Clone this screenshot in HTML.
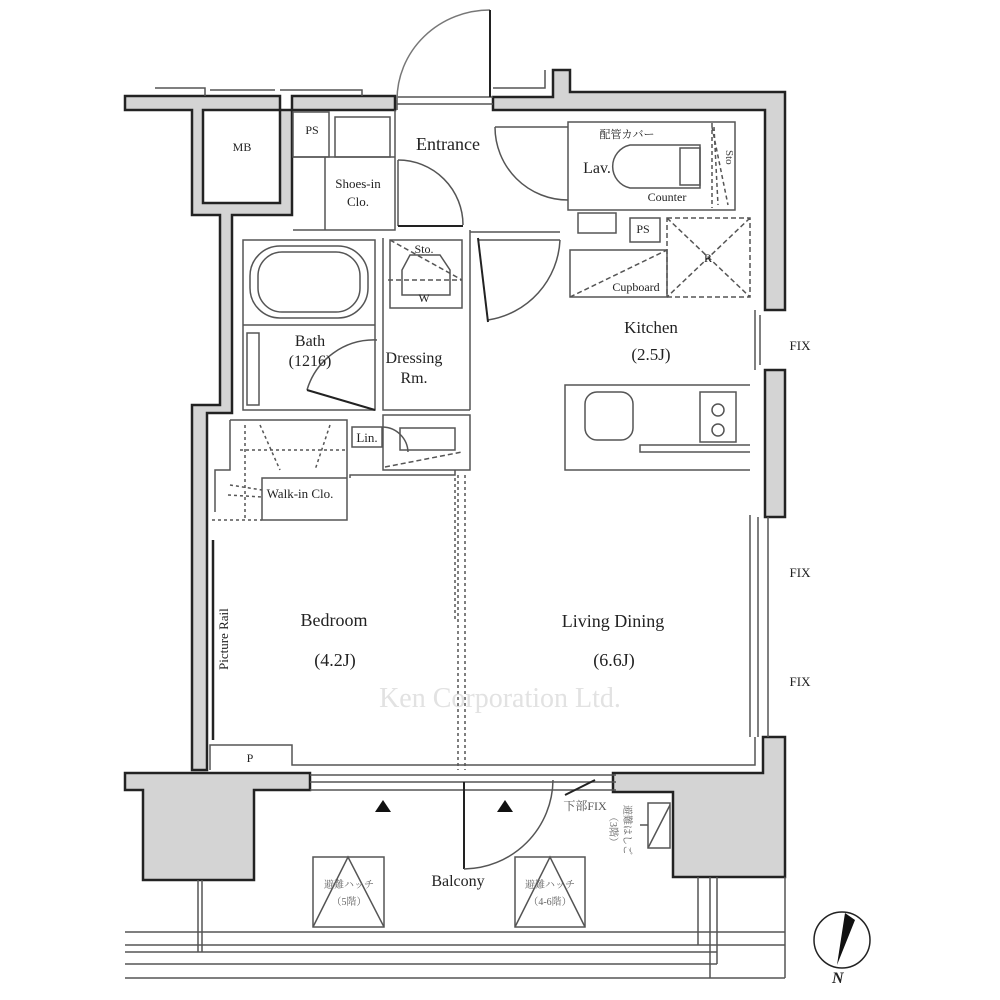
<!DOCTYPE html>
<html><head><meta charset="utf-8"><style>
html,body{margin:0;padding:0;background:#fff;}
svg{display:block;}
text{font-family:"Liberation Serif","Noto Serif CJK SC",serif;fill:#222;}
</style></head><body>
<svg width="1000" height="1000" viewBox="0 0 1000 1000" xmlns="http://www.w3.org/2000/svg">
<g fill="#d4d4d4" stroke="#222" stroke-width="2.5">
<path d="M125 96 L280 96 L280 110 L292 110 L292 96 L395 96 L395 110 L292 110 L292 215 L232 215 L232 413 L207 413 L207 770 L192 770 L192 405 L220 405 L220 215 L203 215 L192 215 L192 110 L125 110 Z"/>
<path d="M493 97 L553 97 L553 70 L570 70 L570 92 L785 92 L785 310 L765 310 L765 110 L493 110 Z"/>
<path d="M765 370 L785 370 L785 517 L765 517 Z"/>
<path d="M763 737 L785 737 L785 877 L673 877 L673 792 L613 792 L613 773 L763 773 Z"/>
<path d="M125 773 L310 773 L310 790 L254 790 L254 880 L143 880 L143 790 L125 790 Z"/>
</g>
<rect x="203" y="110" width="77" height="93" fill="#fff" stroke="#222" stroke-width="2.5"/>
<g fill="none" stroke="#555" stroke-width="1.5">
<path d="M155 88 L205 88 L205 96 M210 90 L275 90 M280 90 L362 90 L362 96"/>
<path d="M493 88 L545 88 L545 70"/>
<path d="M397 97 L493 97 M397 104 L493 104"/>
<line x1="397" y1="96" x2="397" y2="110"/>
<path d="M397 100 A93 90 0 0 1 490 10" stroke="#777"/>
<line x1="490" y1="10" x2="490" y2="97" stroke="#222" stroke-width="2"/>
<rect x="293" y="112" width="36" height="45"/>
<rect x="335" y="117" width="55" height="40"/>
<path d="M293 157 L395 157 M325 157 L325 230 M293 230 L395 230 L395 110"/>
<line x1="398" y1="160" x2="398" y2="226"/>
<path d="M398 160 A65 65 0 0 1 463 225"/>
<line x1="398" y1="226" x2="463" y2="226" stroke="#222" stroke-width="2"/>
<path d="M470 230 L470 410 M478 232 L560 232 M478 240 L560 240 M470 232 L478 232"/>
<rect x="568" y="122" width="167" height="88"/>
<line x1="495" y1="127" x2="568" y2="127"/>
<path d="M495 127 A73 73 0 0 0 568 200"/>
<path d="M630 145 L700 145 L700 188 L630 188 A22 22 0 0 1 630 145 Z"/>
<path d="M680 148 L700 148 L700 185 L680 185 Z"/>
<path d="M712 123 L712 208" stroke-dasharray="4 3"/>
<path d="M712 127 L728 205 M714 127 L718 205" stroke-dasharray="4 3"/>
<rect x="578" y="213" width="38" height="20"/>
<rect x="630" y="218" width="30" height="24"/>
<path d="M560 240 A85 85 0 0 1 488 320" />
<line x1="478" y1="238" x2="488" y2="322" stroke="#222" stroke-width="2"/>
<path d="M570 250 L667 250 L667 297 L570 297 Z"/>
<path d="M667 218 L750 218 L750 297 L667 297 Z M667 218 L750 297 M750 218 L667 297 M570 297 L667 250" stroke-dasharray="5 3"/>
<path d="M750 385 L565 385 L565 470 L750 470"/>
<path d="M750 445 L640 445 L640 452 L750 452"/>
<rect x="585" y="392" width="48" height="48" rx="12"/>
<rect x="700" y="392" width="36" height="50"/>
<circle cx="718" cy="410" r="6"/><circle cx="718" cy="430" r="6"/>
<path d="M755 310 L755 370 M760 315 L760 365 M750 515 L750 737 M758 517 L758 737 M768 517 L768 737"/>
<rect x="243" y="240" width="132" height="170"/>
<line x1="243" y1="325" x2="375" y2="325"/>
<rect x="250" y="246" width="118" height="72" rx="30"/>
<rect x="258" y="252" width="102" height="60" rx="24"/>
<rect x="247" y="333" width="12" height="72"/>
<path d="M307 390 A70 70 0 0 1 377 340"/>
<line x1="307" y1="390" x2="375" y2="410" stroke="#222" stroke-width="2"/>
<path d="M383 238 L383 410 L470 410"/>
<rect x="390" y="240" width="72" height="68"/>
<path d="M390 240 L462 280 M388 280 L462 280" stroke-dasharray="5 3"/>
<path d="M410 255 L440 255 L450 270 L450 295 L402 295 L402 270 Z"/>
<rect x="352" y="427" width="30" height="20"/>
<path d="M383 415 L470 415 L470 470 L383 470 Z"/>
<rect x="400" y="428" width="55" height="22"/>
<path d="M383 427 A26 26 0 0 1 408 452"/>
<path d="M385 467 L462 452" stroke-dasharray="5 3"/>
<path d="M230 420 L347 420 L347 478 L262 478 L262 520 L347 520 L347 478 M230 420 L230 470 L215 470 L215 512"/>
<path d="M245 425 L245 520 M212 520 L262 520 M240 450 L345 450 M260 425 L280 470 M330 425 L315 470 M230 485 L262 490 M228 495 L262 497" stroke-dasharray="3 3"/>
<path d="M350 478 L350 475 L455 475 L455 470"/>
<path d="M210 770 L210 745 L292 745 L292 765 L755 765 L755 737"/>
<path d="M458 475 L458 770 M465 475 L465 770 M455 478 L455 620" stroke-dasharray="3 3"/>
<path d="M310 775 L616 775 M310 782 L616 782 M310 790 L616 790"/>
<line x1="213" y1="540" x2="213" y2="740" stroke="#222" stroke-width="2.5"/>
<line x1="464" y1="782" x2="464" y2="869" stroke="#222" stroke-width="2"/>
<path d="M464 869 A90 90 0 0 0 553 780"/>
<path d="M565 795 L595 780" stroke="#222" stroke-width="2"/>
<rect x="313" y="857" width="71" height="70"/>
<path d="M313 927 L348 857 L384 927"/>
<rect x="515" y="857" width="70" height="70"/>
<path d="M515 927 L550 857 L585 927"/>
<rect x="648" y="803" width="22" height="45"/>
<path d="M648 848 L670 805 M640 825 L648 825"/>
<path d="M125 932 L785 932 M125 945 L785 945 M125 952 L717 952 M125 964 L717 964 M125 978 L785 978"/>
<path d="M198 880 L198 952 M202 880 L202 952 M698 877 L698 945 M710 877 L710 978 M717 877 L717 964 M785 877 L785 978"/>
</g>
<polygon points="383,800 375,812 391,812" fill="#111"/>
<polygon points="505,800 497,812 513,812" fill="#111"/>
<circle cx="842" cy="940" r="28" fill="none" stroke="#222" stroke-width="1.5"/>
<polygon points="845,913 855,920 837,965" fill="#111"/>
<text x="832" y="983" font-size="16" font-weight="bold" font-style="italic" font-family="Liberation Sans,sans-serif">N</text>
<g text-anchor="middle">
<text x="448" y="150" font-size="18">Entrance</text>
<text x="242" y="151" font-size="12">MB</text>
<text x="312" y="134" font-size="12">PS</text>
<text x="358" y="188" font-size="13">Shoes-in</text>
<text x="358" y="206" font-size="13">Clo.</text>
<text x="597" y="173" font-size="16">Lav.</text>
<text x="627" y="138" font-size="11">配管カバー</text>
<text x="667" y="201" font-size="12">Counter</text>
<text x="643" y="233" font-size="12">PS</text>
<text x="708" y="262" font-size="12">R</text>
<text x="636" y="291" font-size="12">Cupboard</text>
<text x="424" y="253" font-size="12">Sto.</text>
<text x="424" y="302" font-size="12">W</text>
<text x="310" y="346" font-size="16">Bath</text>
<text x="310" y="366" font-size="16">(1216)</text>
<text x="414" y="363" font-size="16">Dressing</text>
<text x="414" y="383" font-size="16">Rm.</text>
<text x="651" y="333" font-size="17">Kitchen</text>
<text x="651" y="360" font-size="17">(2.5J)</text>
<text x="800" y="350" font-size="13">FIX</text>
<text x="800" y="577" font-size="13">FIX</text>
<text x="800" y="686" font-size="13">FIX</text>
<text x="367" y="442" font-size="13">Lin.</text>
<text x="300" y="498" font-size="13">Walk-in Clo.</text>
<text x="334" y="626" font-size="18">Bedroom</text>
<text x="335" y="666" font-size="18">(4.2J)</text>
<text x="613" y="627" font-size="18">Living Dining</text>
<text x="614" y="666" font-size="18">(6.6J)</text>
<text x="500" y="707" font-size="28" font-family="Liberation Sans,sans-serif" style="fill:#e2e2e2">Ken Corporation Ltd.</text>
<text x="250" y="762" font-size="12">P</text>
<text x="458" y="886" font-size="16">Balcony</text>
<text x="585" y="810" font-size="12" style="fill:#555">下部FIX</text>
<text x="349" y="888" font-size="10" style="fill:#666">避難ハッチ</text>
<text x="349" y="905" font-size="10" style="fill:#666">（5階）</text>
<text x="550" y="888" font-size="10" style="fill:#666">避難ハッチ</text>
<text x="550" y="905" font-size="10" style="fill:#666">（4-6階）</text>
</g>
<text transform="translate(726,150) rotate(90)" font-size="11" style="fill:#444">Sto</text>
<text transform="translate(228,670) rotate(-90)" font-size="13">Picture Rail</text>
<text transform="translate(624,805) rotate(90)" font-size="10" style="fill:#666">避難はしご</text>
<text transform="translate(610,812) rotate(90)" font-size="10" style="fill:#666">（3階）</text>
</svg>
</body></html>
